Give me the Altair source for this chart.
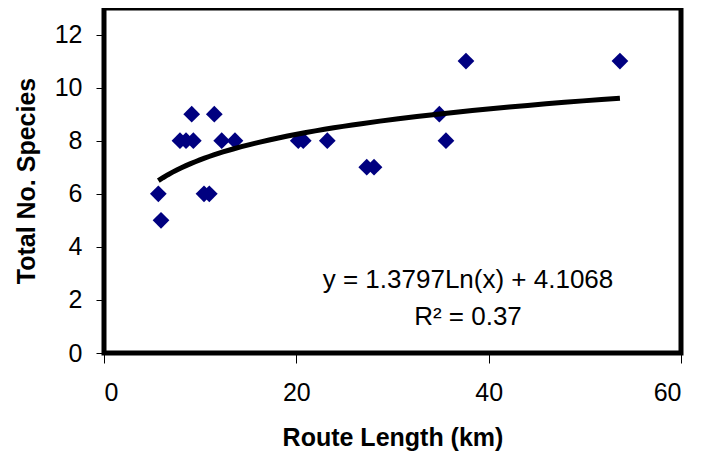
import altair as alt
import pandas as pd

route_km = [5.65, 5.93, 9.12, 11.47, 7.9, 8.53, 9.29, 12.24, 13.62, 10.4, 10.95,
            20.2, 20.72, 23.22, 27.32, 28.08, 34.87, 35.56, 37.64, 53.65]
species = [6, 5, 9, 9, 8, 8, 8, 8, 8, 6, 6,
           8, 8, 8, 7, 7, 9, 8, 11, 11]

eq_labels = ["y = 1.3797Ln(x) + 4.1068", "R² = 0.37"]
eq_x = [37.85, 37.85]
eq_y = [2.45, 1.06]

df = pd.DataFrame({"x": route_km, "y": species})
df_txt = pd.DataFrame({"x": eq_x, "y": eq_y, "t": eq_labels})

FONT = "Liberation Sans"

xscale = alt.Scale(domain=[0, 60], nice=False, zero=False)
yscale = alt.Scale(domain=[0, 13], nice=False, zero=False)

xaxis = alt.Axis(values=[0, 20, 40, 60], grid=False, domain=False,
                 tickColor="black", tickSize=10, tickWidth=1,
                 labelFont=FONT, labelFontSize=25, labelColor="black",
                 labelPadding=17, title="Route Length (km)",
                 titleFont=FONT, titleFontSize=25, titleFontWeight="bold",
                 titleColor="black", titlePadding=20)
yaxis = alt.Axis(values=[0, 2, 4, 6, 8, 10, 12], grid=False, domain=False,
                 tickColor="black", tickSize=8, tickWidth=1,
                 labelFont=FONT, labelFontSize=25, labelColor="black",
                 labelPadding=14, title="Total No. Species",
                 titleFont=FONT, titleFontSize=25, titleFontWeight="bold",
                 titleColor="black", titlePadding=15)

points = alt.Chart(df).mark_point(shape="diamond", filled=True, size=280,
                                  color="#000080", opacity=1).encode(
    x=alt.X("x:Q", scale=xscale, axis=xaxis),
    y=alt.Y("y:Q", scale=yscale, axis=yaxis),
)

trend = alt.Chart(df).transform_regression(
    "x", "y", method="log"
).mark_line(color="black", strokeWidth=5).encode(
    x=alt.X("x:Q", scale=xscale),
    y=alt.Y("y:Q", scale=yscale),
)

text = alt.Chart(df_txt).mark_text(font=FONT, fontSize=26, color="black",
                                   align="center", baseline="alphabetic").encode(
    x=alt.X("x:Q", scale=xscale),
    y=alt.Y("y:Q", scale=yscale),
    text="t:N",
)

chart = alt.layer(points, trend, text).properties(
    width=577, height=345,
    background="white",
    autosize=alt.AutoSizeParams(type="none"),
    padding={"left": 96, "top": 0, "right": 18, "bottom": 104},
).configure_view(stroke="black", strokeWidth=5)

chart.save("out.html", embed_options={"renderer": "svg", "actions": False})
